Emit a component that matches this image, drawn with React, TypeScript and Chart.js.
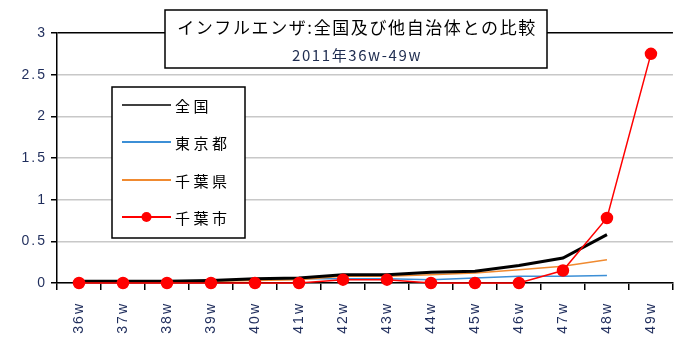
import React, { useEffect, useRef } from 'react';
import { Chart, registerables } from 'chart.js';

Chart.register(...registerables);

const weeks = ['36w', '37w', '38w', '39w', '40w', '41w', '42w', '43w', '44w', '45w', '46w', '47w', '48w', '49w'];
const national = [0.02, 0.02, 0.02, 0.03, 0.05, 0.06, 0.1, 0.1, 0.13, 0.14, 0.21, 0.3, 0.58, null];
const tokyo = [0.01, 0.01, 0.02, 0.03, 0.04, 0.05, 0.05, 0.05, 0.04, 0.06, 0.08, 0.08, 0.09, null];
const chibaPref = [0.01, 0.01, 0.01, 0.02, 0.03, 0.04, 0.08, 0.08, 0.1, 0.12, 0.16, 0.2, 0.28, null];
const chibaCity = [0, 0, 0, 0, 0, 0, 0.04, 0.04, 0, 0, 0, 0.15, 0.78, 2.75];

const seriesNames = ['全国', '東京都', '千葉県', '千葉市'];
const titleLine1 = 'インフルエンザ:全国及び他自治体との比較';
const titleLine2 = '2011年36w-49w';

const TICK_COLOR = '#1f2d5c';
const JP_FONT = '"Noto Sans CJK JP", sans-serif';

const spacingPlugin = {
  id: 'tickSpacing',
  beforeDraw(chart: any) {
    (chart.ctx as any).letterSpacing = '2px';
  },
  beforeDatasetsDraw(chart: any) {
    (chart.ctx as any).letterSpacing = '0px';
  },
};

const boxesPlugin = {
  id: 'boxes',
  afterDraw(chart: any) {
    const ctx = chart.ctx as CanvasRenderingContext2D;
    ctx.save();
    // Title box
    ctx.fillStyle = '#fff';
    ctx.fillRect(165, 10, 382, 58);
    ctx.strokeStyle = '#000';
    ctx.lineWidth = 1.5;
    ctx.strokeRect(165, 10, 382, 58);
    ctx.textAlign = 'center';
    ctx.textBaseline = 'middle';
    ctx.fillStyle = '#000';
    (ctx as any).letterSpacing = '1.6px';
    ctx.font = '17px ' + JP_FONT;
    ctx.fillText(titleLine1, 357, 28);
    (ctx as any).letterSpacing = '1.6px';
    ctx.fillStyle = '#1f2d50';
    ctx.font = '15px ' + JP_FONT;
    ctx.fillText(titleLine2, 357, 55);

    // Legend box
    ctx.fillStyle = '#fff';
    ctx.fillRect(112, 87, 133, 151);
    ctx.strokeStyle = '#000';
    ctx.lineWidth = 1.5;
    ctx.strokeRect(112, 87, 133, 151);
    const ys = [105, 142, 180, 217];
    chart.data.datasets.forEach((ds: any, i: number) => {
      const y = ys[i];
      ctx.strokeStyle = ds.borderColor;
      ctx.lineWidth = i === 0 ? 1.5 : 2;
      ctx.beginPath();
      ctx.moveTo(122, y);
      ctx.lineTo(171, y);
      ctx.stroke();
      if (ds.pointRadius > 0) {
        ctx.fillStyle = ds.pointBackgroundColor;
        ctx.beginPath();
        ctx.arc(146.5, y, 5, 0, Math.PI * 2);
        ctx.fill();
      }
      ctx.fillStyle = '#000';
      ctx.textAlign = 'left';
      ctx.textBaseline = 'middle';
      (ctx as any).letterSpacing = '3.5px';
      ctx.font = '15px ' + JP_FONT;
      ctx.fillText(ds.label, 175, y + 1);
    });
    (ctx as any).letterSpacing = '0px';
    ctx.restore();
  },
};

export default function App() {
  const ref = useRef<HTMLCanvasElement | null>(null);
  useEffect(() => {
    if (!ref.current) return;
    const chart = new Chart(ref.current, {
      type: 'line',
      data: {
        labels: weeks,
        datasets: [
          {
            label: seriesNames[0],
            data: national,
            borderColor: '#000000',
            backgroundColor: '#000000',
            borderWidth: 3,
            pointRadius: 0,
            order: 1,
            clip: false,
          },
          {
            label: seriesNames[1],
            data: tokyo,
            borderColor: '#3c8fd6',
            backgroundColor: '#3c8fd6',
            borderWidth: 1.5,
            pointRadius: 0,
            order: 3,
            clip: false,
          },
          {
            label: seriesNames[2],
            data: chibaPref,
            borderColor: '#f08a30',
            backgroundColor: '#f08a30',
            borderWidth: 1.5,
            pointRadius: 0,
            order: 2,
            clip: false,
          },
          {
            label: seriesNames[3],
            data: chibaCity,
            borderColor: '#ff0000',
            backgroundColor: '#ff0000',
            pointBackgroundColor: '#ff0000',
            pointBorderColor: '#ff0000',
            borderWidth: 1.5,
            pointRadius: 5.5,
            pointStyle: 'circle',
            order: 0,
            clip: false,
          } as any,
        ],
      },
      options: {
        responsive: false,
        animation: false,
        devicePixelRatio: 1,
        layout: { padding: { top: 33, right: 3, left: 0, bottom: 0 } },
        plugins: {
          legend: { display: false },
          title: { display: false },
          tooltip: { enabled: false },
        },
        scales: {
          x: {
            offset: true,
            afterFit: (s: any) => {
              s.height = 57;
            },
            grid: {
              offset: true,
              drawOnChartArea: false,
              drawTicks: true,
              tickLength: 7,
              color: '#000',
              lineWidth: 1.5,
            },
            border: { color: '#000', width: 1.5 },
            ticks: {
              autoSkip: false,
              minRotation: 90,
              maxRotation: 90,
              color: TICK_COLOR,
              padding: 12,
              font: { family: '"Liberation Sans", sans-serif', size: 14 },
            },
          },
          y: {
            min: 0,
            max: 3,
            afterFit: (s: any) => {
              s.width = 57;
            },
            grid: {
              color: (c: any) => (c.tick && c.tick.value === 3 ? '#000' : '#c8c8c8'),
              lineWidth: 1.5,
              tickColor: '#000',
              tickLength: 6,
            },
            border: { color: '#000', width: 1.5 },
            ticks: {
              stepSize: 0.5,
              color: TICK_COLOR,
              padding: 4,
              font: { family: '"Liberation Sans", sans-serif', size: 14 },
              callback: (v: any) => String(v),
            },
          },
        },
      },
      plugins: [spacingPlugin, boxesPlugin],
    });
    return () => chart.destroy();
  }, []);
  return (
    <div style={{ position: 'absolute', left: 0, top: 0, width: 674, height: 340, overflow: 'hidden', background: '#fff' }}>
      <canvas ref={ref} width={680} height={340} style={{ display: 'block' }} />
    </div>
  );
}
